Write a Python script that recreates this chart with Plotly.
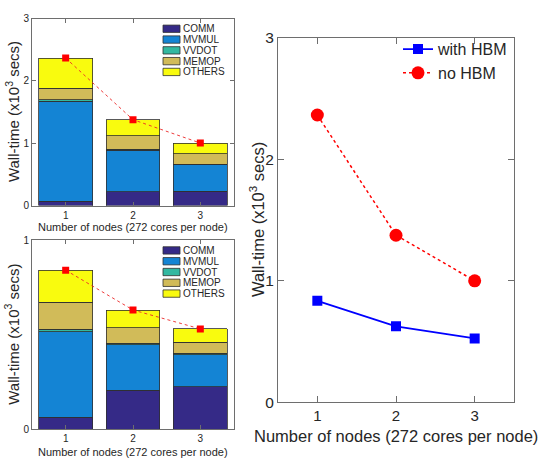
import plotly.graph_objects as go

# ---------------- data ----------------
nodes = [1, 2, 3]
components = ["COMM", "MVMUL", "VVDOT", "MEMOP", "OTHERS"]
comp_colors = ["#352a87", "#1484d4", "#33b8a1", "#d1bb59", "#f9fb0e"]

# without HBM (top-left panel), x10^3 secs
nohbm_comm = [0.067, 0.221, 0.232]
nohbm_mvmul = [1.611, 0.669, 0.427]
nohbm_vvdot = [0.022, 0.016, 0.008]
nohbm_memop = [0.184, 0.216, 0.162]
nohbm_others = [0.483, 0.257, 0.175]

# with HBM (bottom-left panel), x10^3 secs
hbm_comm = [0.063, 0.206, 0.224]
hbm_mvmul = [0.452, 0.240, 0.171]
hbm_vvdot = [0.014, 0.008, 0.008]
hbm_memop = [0.143, 0.083, 0.058]
hbm_others = [0.170, 0.094, 0.070]

# right panel totals
walltime_with_hbm = [0.835, 0.625, 0.525]
walltime_no_hbm = [2.365, 1.375, 1.000]

x_ticks = [1, 2, 3]
y_ticks_top = [0, 1, 2, 3]
y_ticks_bottom = [0, 1]
y_ticks_right = [0, 1, 2, 3]

xtitle = "Number of nodes (272 cores per node)"
ytitle = "Wall-time (x10<sup>3</sup> secs)"

# ---------------- layout helpers ----------------
W, H = 549, 469
FONT = "Liberation Sans, Arial, Helvetica, sans-serif"
TXT = "#262626"
AX = "#6e6e6e"


def fx(px):
    return px / W


def fy(py):
    return 1 - py / H


fig = go.Figure()

top_sets = [nohbm_comm, nohbm_mvmul, nohbm_vvdot, nohbm_memop, nohbm_others]
bot_sets = [hbm_comm, hbm_mvmul, hbm_vvdot, hbm_memop, hbm_others]

for vals, name, col in zip(top_sets, components, comp_colors):
    fig.add_trace(go.Bar(x=nodes, y=vals, name=name, marker=dict(color=col, line=dict(color="#303030", width=0.8)),
                         xaxis="x", yaxis="y", showlegend=False))
for vals, name, col in zip(bot_sets, components, comp_colors):
    fig.add_trace(go.Bar(x=nodes, y=vals, name=name, marker=dict(color=col, line=dict(color="#303030", width=0.8)),
                         xaxis="x2", yaxis="y2", showlegend=False))

top_total = [sum(v) for v in zip(*top_sets)]
bot_total = [sum(v) for v in zip(*bot_sets)]

fig.add_trace(go.Scatter(x=nodes, y=top_total, mode="lines+markers", xaxis="x", yaxis="y", showlegend=False,
                         line=dict(color="rgba(235,40,40,0.9)", width=1, dash="dot"),
                         marker=dict(symbol="square", size=7, color="#ff0000")))
fig.add_trace(go.Scatter(x=nodes, y=bot_total, mode="lines+markers", xaxis="x2", yaxis="y2", showlegend=False,
                         line=dict(color="rgba(235,40,40,0.9)", width=1, dash="dot"),
                         marker=dict(symbol="square", size=7, color="#ff0000")))

fig.add_trace(go.Scatter(x=nodes, y=walltime_with_hbm, mode="lines+markers", name="with HBM", xaxis="x3", yaxis="y3",
                         line=dict(color="#0000ff", width=1.8),
                         marker=dict(symbol="square", size=10, color="#0000ff")))
fig.add_trace(go.Scatter(x=nodes, y=walltime_no_hbm, mode="lines+markers", name="no HBM", xaxis="x3", yaxis="y3",
                         line=dict(color="#ff0000", width=1.5, dash="dot"),
                         marker=dict(symbol="circle", size=13, color="#ff0000")))


def axstyle(size, ticklen, standoff=0):
    return dict(showline=True, linecolor=AX, linewidth=1, mirror="allticks", ticks="inside", ticklen=ticklen,
                tickcolor=AX, showgrid=False, zeroline=False, ticklabelstandoff=standoff,
                tickfont=dict(size=size, color=TXT, family=FONT))


# panel pixel boxes (left, top, right, bottom)
box_top = (32, 10, 234, 204)
box_bot = (32, 240, 234, 436)
box_right = (278, 30, 514, 408)

fig.update_layout(
    width=W, height=H, autosize=False,
    margin=dict(l=0, r=0, t=0, b=0),
    paper_bgcolor="white", plot_bgcolor="white",
    font=dict(family=FONT, color=TXT),
    barmode="stack", bargap=0.2,
    xaxis=dict(domain=[fx(box_top[0]), fx(box_top[2])], anchor="y", range=[0.5, 3.5], tickvals=x_ticks,
               **axstyle(10, 4)),
    yaxis=dict(domain=[fy(box_top[3]), fy(box_top[1])], anchor="x", range=[0, 3], tickvals=y_ticks_top,
               **axstyle(10, 4)),
    xaxis2=dict(domain=[fx(box_bot[0]), fx(box_bot[2])], anchor="y2", range=[0.5, 3.5], tickvals=x_ticks,
                **axstyle(10, 4)),
    yaxis2=dict(domain=[fy(box_bot[3]), fy(box_bot[1])], anchor="x2", range=[0, 1], tickvals=y_ticks_bottom,
                **axstyle(10, 4)),
    xaxis3=dict(domain=[fx(box_right[0]), fx(box_right[2])], anchor="y3", range=[0.5, 3.5], tickvals=x_ticks,
                **axstyle(15, 6)),
    yaxis3=dict(domain=[fy(box_right[3]), fy(box_right[1])], anchor="x3", range=[0, 3], tickvals=y_ticks_right,
                **axstyle(15.5, 6)),
    legend=dict(x=fx(398), xanchor="left", y=fy(24), yanchor="top", bgcolor="rgba(0,0,0,0)",
                traceorder="normal", font=dict(size=16, color=TXT, family=FONT), itemwidth=30, tracegroupgap=0),
)

annotations = []
shapes = []

# axis titles
for box, xsize, ysize, xt_y, yt_x in [(box_top, 11, 15, 226.5, 12), (box_bot, 11, 15, 459.5, 12),
                                       (box_right, 16.5, 16.5, 443, 257)]:
    cx = (box[0] + box[2]) / 2
    cy = (box[1] + box[3]) / 2
    annotations.append(dict(text=xtitle, x=fx(cx), y=fy(xt_y), xref="paper", yref="paper",
                            xanchor="center", yanchor="middle", showarrow=False, borderpad=0,
                            font=dict(size=xsize, color=TXT, family=FONT)))
    annotations.append(dict(text=ytitle, x=fx(yt_x), y=fy(cy), xref="paper", yref="paper", textangle=-90,
                            xanchor="center", yanchor="middle", showarrow=False, borderpad=0,
                            font=dict(size=ysize, color=TXT, family=FONT)))

# compact MATLAB-style legends inside the left panels
for box in (box_top, box_bot):
    for i, (name, col) in enumerate(zip(components, comp_colors)):
        cy = box[1] + 10.5 + i * 11.2
        shapes.append(dict(type="rect", xref="paper", yref="paper", x0=fx(163), x1=fx(180),
                           y0=fy(cy + 3.8), y1=fy(cy - 3.8), fillcolor=col, line=dict(color="#303030", width=0.8)))
        annotations.append(dict(text=name, x=fx(182), y=fy(cy), xref="paper", yref="paper", xanchor="left",
                                yanchor="middle", showarrow=False, borderpad=0,
                                font=dict(size=10, color=TXT, family=FONT)))

fig.update_layout(annotations=annotations, shapes=shapes)

fig.write_html("out.html", config={"displayModeBar": False},
               post_script="document.body.style.margin='0px';document.body.style.overflow='hidden';")
